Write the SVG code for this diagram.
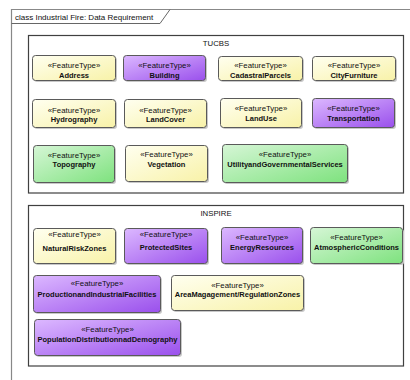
<svg xmlns="http://www.w3.org/2000/svg" width="410" height="380" viewBox="0 0 410 380">
<defs>
<linearGradient id="gy" x1="0" y1="0" x2="1" y2="1"><stop offset="0" stop-color="#fffff0"/><stop offset="1" stop-color="#f8f2a8"/></linearGradient>
<linearGradient id="gp" x1="0" y1="0" x2="1" y2="1"><stop offset="0" stop-color="#dcb8ff"/><stop offset="1" stop-color="#9a50ec"/></linearGradient>
<linearGradient id="gg" x1="0" y1="0" x2="1" y2="1"><stop offset="0" stop-color="#d6f6d6"/><stop offset="1" stop-color="#7ee27e"/></linearGradient>
</defs>
<style>
text{font-family:"Liberation Sans",Arial,sans-serif;fill:#111;text-anchor:middle}
.st{font-size:7.8px}
.nm{font-size:7.5px;font-weight:bold}
.sh{fill:#c8c8c8}
.box{stroke:#5a5a5a;stroke-width:1}
.y{fill:url(#gy)}
.p{fill:url(#gp)}
.g{fill:url(#gg)}
.pkg{fill:#fff;stroke:#404040;stroke-width:1.2}
.lbl{font-size:7.8px}
</style>
<rect width="410" height="380" fill="#fff"/>
<g id="frame">
<path d="M11.5 380 V9.5 H410" fill="none" stroke="#888" stroke-width="1.2"/>
<path d="M11.5 23.5 H160 L170 9.5" fill="none" stroke="#666" stroke-width="1"/>
<text x="15" y="19.5" style="font-size:8px;text-anchor:start">class Industrial Fire: Data Requirement</text>
</g>
<g id="TUCBS">
<rect class="pkg" x="28.5" y="35.5" width="375" height="157.5"/>
<text class="lbl" x="216" y="46">TUCBS</text>
</g>
<g id="INSPIRE">
<rect class="pkg" x="28.5" y="205.5" width="375" height="160.5"/>
<text class="lbl" x="216" y="216">INSPIRE</text>
</g>
<g id="Address"><rect class="sh" x="34" y="57" width="83" height="25" rx="3"/><rect class="box y" x="32.5" y="55.5" width="83" height="25" rx="3"/><text class="st" x="74" y="68">«FeatureType»</text><text class="nm" x="74" y="78">Address</text></g>
<g id="Building"><rect class="sh" x="125" y="57" width="82" height="25" rx="3"/><rect class="box p" x="123.5" y="55.5" width="82" height="25" rx="3"/><text class="st" x="164.5" y="68">«FeatureType»</text><text class="nm" x="164.5" y="78">Building</text></g>
<g id="CadastralParcels"><rect class="sh" x="220" y="58" width="84" height="24" rx="3"/><rect class="box y" x="218.5" y="56.5" width="84" height="24" rx="3"/><text class="st" x="260.5" y="68">«FeatureType»</text><text class="nm" x="260.5" y="78">CadastralParcels</text></g>
<g id="CityFurniture"><rect class="sh" x="314" y="58" width="83" height="24" rx="3"/><rect class="box y" x="312.5" y="56.5" width="83" height="24" rx="3"/><text class="st" x="354" y="68">«FeatureType»</text><text class="nm" x="354" y="78">CityFurniture</text></g>
<g id="Hydrography"><rect class="sh" x="34" y="101" width="83" height="28" rx="3"/><rect class="box y" x="32.5" y="99.5" width="83" height="28" rx="3"/><text class="st" x="74" y="113">«FeatureType»</text><text class="nm" x="74" y="122">Hydrography</text></g>
<g id="LandCover"><rect class="sh" x="126" y="101" width="82" height="28" rx="3"/><rect class="box y" x="124.5" y="99.5" width="82" height="28" rx="3"/><text class="st" x="165.5" y="113">«FeatureType»</text><text class="nm" x="165.5" y="122">LandCover</text></g>
<g id="LandUse"><rect class="sh" x="222" y="100" width="81" height="29" rx="3"/><rect class="box y" x="220.5" y="98.5" width="81" height="29" rx="3"/><text class="st" x="261" y="111">«FeatureType»</text><text class="nm" x="261" y="121">LandUse</text></g>
<g id="Transportation"><rect class="sh" x="314" y="100" width="82" height="29" rx="3"/><rect class="box p" x="312.5" y="98.5" width="82" height="29" rx="3"/><text class="st" x="353.5" y="111">«FeatureType»</text><text class="nm" x="353.5" y="121">Transportation</text></g>
<g id="Topography"><rect class="sh" x="35" y="147" width="81" height="37" rx="3"/><rect class="box g" x="33.5" y="145.5" width="81" height="37" rx="3"/><text class="st" x="74" y="158">«FeatureType»</text><text class="nm" x="74" y="167">Topography</text></g>
<g id="Vegetation"><rect class="sh" x="127" y="147" width="82" height="36" rx="3"/><rect class="box y" x="125.5" y="145.5" width="82" height="36" rx="3"/><text class="st" x="166.5" y="157">«FeatureType»</text><text class="nm" x="166.5" y="167">Vegetation</text></g>
<g id="UtilityandGovernmentalServices"><rect class="sh" x="224" y="146" width="125" height="38" rx="3"/><rect class="box g" x="222.5" y="144.5" width="125" height="38" rx="3"/><text class="st" x="285" y="157">«FeatureType»</text><text class="nm" x="285" y="167">UtilityandGovernmentalServices</text></g>
<g id="NaturalRiskZones"><rect class="sh" x="35" y="230" width="82" height="35" rx="3"/><rect class="box y" x="33.5" y="228.5" width="82" height="35" rx="3"/><text class="st" x="74.5" y="237">«FeatureType»</text><text class="nm" x="74.5" y="251">NaturalRiskZones</text></g>
<g id="ProtectedSites"><rect class="sh" x="126" y="230" width="83" height="35" rx="3"/><rect class="box p" x="124.5" y="228.5" width="83" height="35" rx="3"/><text class="st" x="166" y="237">«FeatureType»</text><text class="nm" x="166" y="250">ProtectedSites</text></g>
<g id="EnergyResources"><rect class="sh" x="223" y="229" width="81" height="36" rx="3"/><rect class="box p" x="221.5" y="227.5" width="81" height="36" rx="3"/><text class="st" x="262" y="240">«FeatureType»</text><text class="nm" x="262" y="250">EnergyResources</text></g>
<g id="AtmosphericConditions"><rect class="sh" x="312" y="229" width="92" height="36" rx="3"/><rect class="box g" x="310.5" y="227.5" width="92" height="36" rx="3"/><text class="st" x="356.5" y="240">«FeatureType»</text><text class="nm" x="356.5" y="250">AtmosphericConditions</text></g>
<g id="ProductionandIndustrialFacilities"><rect class="sh" x="35" y="277" width="127" height="37" rx="3"/><rect class="box p" x="33.5" y="275.5" width="127" height="37" rx="3"/><text class="st" x="97" y="286">«FeatureType»</text><text class="nm" x="97" y="297">ProductionandIndustrialFacilities</text></g>
<g id="AreaMagagementRegulationZones"><rect class="sh" x="173" y="277" width="132" height="35" rx="3"/><rect class="box y" x="171.5" y="275.5" width="132" height="35" rx="3"/><text class="st" x="237.5" y="288">«FeatureType»</text><text class="nm" x="237.5" y="297">AreaMagagement/RegulationZones</text></g>
<g id="PopulationDistributionnadDemography"><rect class="sh" x="36" y="321" width="146" height="36" rx="3"/><rect class="box p" x="34.5" y="319.5" width="146" height="36" rx="3"/><text class="st" x="107.5" y="332">«FeatureType»</text><text class="nm" x="107.5" y="342">PopulationDistributionnadDemography</text></g>
<g id="connectors"/>
</svg>
